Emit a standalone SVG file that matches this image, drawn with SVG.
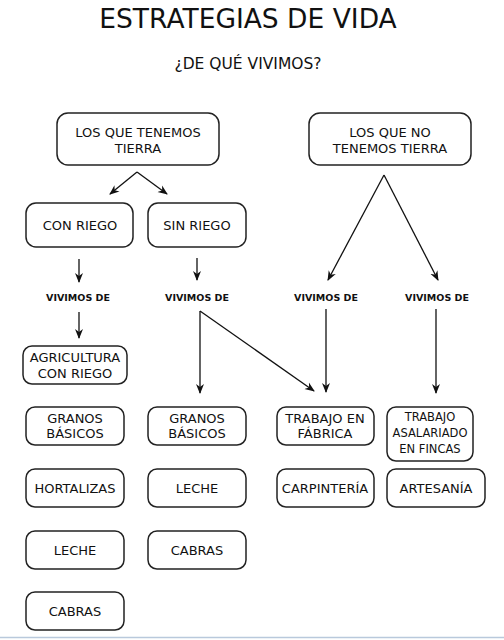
<svg xmlns="http://www.w3.org/2000/svg" width="504" height="640" viewBox="0 0 504 640">
<style>
text{font-family:"DejaVu Sans","Noto Sans",sans-serif;fill:#111;text-anchor:middle}
.title{font-size:26.5px}
.sub{font-size:15.5px}
.n{font-size:13px}
.s{font-size:11.5px}
.v{font-size:9.5px;font-weight:bold}
rect{fill:#fff;stroke:#222;stroke-width:1.5}
.c line,.c path{stroke:#111;stroke-width:1.3;fill:none}
</style>
<defs>
<marker id="ah" markerWidth="10" markerHeight="10" refX="9" refY="5" orient="auto" markerUnits="userSpaceOnUse">
<path d="M0,1 L10,5 L0,9 L3,5 Z" fill="#111"/>
</marker>
</defs>
<rect width="504" height="640" style="fill:#fff;stroke:none"/>
<line x1="0" y1="637.5" x2="504" y2="637.5" stroke="#b9c9dc" stroke-width="1.5"/>
<text class="title" x="248" y="28">ESTRATEGIAS DE VIDA</text>
<text class="sub" x="248" y="69">¿DE QUÉ VIVIMOS?</text>

<g class="c">
<line x1="137" y1="172" x2="110" y2="194" marker-end="url(#ah)"/>
<line x1="137" y1="172" x2="167" y2="194" marker-end="url(#ah)"/>
<line x1="384" y1="175" x2="328" y2="280" marker-end="url(#ah)"/>
<line x1="384" y1="175" x2="438" y2="280" marker-end="url(#ah)"/>
<line x1="79" y1="259" x2="79" y2="282" marker-end="url(#ah)"/>
<line x1="197" y1="258" x2="197" y2="280" marker-end="url(#ah)"/>
<line x1="79" y1="312" x2="79" y2="338" marker-end="url(#ah)"/>
<line x1="200" y1="311" x2="200" y2="393" marker-end="url(#ah)"/>
<line x1="200" y1="311" x2="314" y2="391" marker-end="url(#ah)"/>
<line x1="326" y1="309" x2="326" y2="392" marker-end="url(#ah)"/>
<line x1="436" y1="309" x2="436" y2="393" marker-end="url(#ah)"/>
</g>

<text class="v" x="78" y="301">VIVIMOS DE</text>
<text class="v" x="197" y="301">VIVIMOS DE</text>
<text class="v" x="326" y="301">VIVIMOS DE</text>
<text class="v" x="437" y="301">VIVIMOS DE</text>

<g id="tenemos"><rect x="57" y="113" width="162" height="52" rx="11"/><text class="n" x="138" y="137">LOS QUE TENEMOS</text><text class="n" x="138" y="153">TIERRA</text></g>
<g id="noTenemos"><rect x="309" y="113" width="162" height="52" rx="11"/><text class="n" x="390" y="137">LOS QUE NO</text><text class="n" x="390" y="153">TENEMOS TIERRA</text></g>
<g id="conRiego"><rect x="26" y="203" width="107" height="44" rx="10"/><text class="n" x="80" y="230">CON RIEGO</text></g>
<g id="sinRiego"><rect x="148" y="203" width="98" height="44" rx="10"/><text class="n" x="197" y="230">SIN RIEGO</text></g>
<g id="agricultura"><rect x="23" y="346" width="104" height="38" rx="9"/><text class="n" x="75" y="362">AGRICULTURA</text><text class="n" x="75" y="378">CON RIEGO</text></g>

<g id="granos1"><rect x="26" y="407" width="98" height="38" rx="9"/><text class="n" x="75" y="423">GRANOS</text><text class="n" x="75" y="438">BÁSICOS</text></g>
<g id="hortalizas"><rect x="26" y="469" width="98" height="38" rx="9"/><text class="n" x="75" y="493">HORTALIZAS</text></g>
<g id="leche1"><rect x="26" y="531" width="98" height="38" rx="9"/><text class="n" x="75" y="555">LECHE</text></g>
<g id="cabras1"><rect x="26" y="592" width="98" height="38" rx="9"/><text class="n" x="75" y="616">CABRAS</text></g>

<g id="granos2"><rect x="148" y="407" width="98" height="38" rx="9"/><text class="n" x="197" y="423">GRANOS</text><text class="n" x="197" y="438">BÁSICOS</text></g>
<g id="leche2"><rect x="148" y="469" width="98" height="38" rx="9"/><text class="n" x="197" y="493">LECHE</text></g>
<g id="cabras2"><rect x="148" y="531" width="98" height="38" rx="9"/><text class="n" x="197" y="555">CABRAS</text></g>

<g id="fabrica"><rect x="277" y="407" width="97" height="38" rx="9"/><text class="n" x="325" y="423">TRABAJO EN</text><text class="n" x="325" y="438">FÁBRICA</text></g>
<g id="asalariado"><rect x="387" y="407" width="86" height="54" rx="9"/><text class="s" x="430" y="421">TRABAJO</text><text class="s" x="430" y="437">ASALARIADO</text><text class="s" x="430" y="453">EN FINCAS</text></g>
<g id="carpinteria"><rect x="277" y="469" width="97" height="38" rx="9"/><text class="n" x="325" y="493">CARPINTERÍA</text></g>
<g id="artesania"><rect x="387" y="469" width="98" height="38" rx="9"/><text class="n" x="436" y="493">ARTESANÍA</text></g>
</svg>
